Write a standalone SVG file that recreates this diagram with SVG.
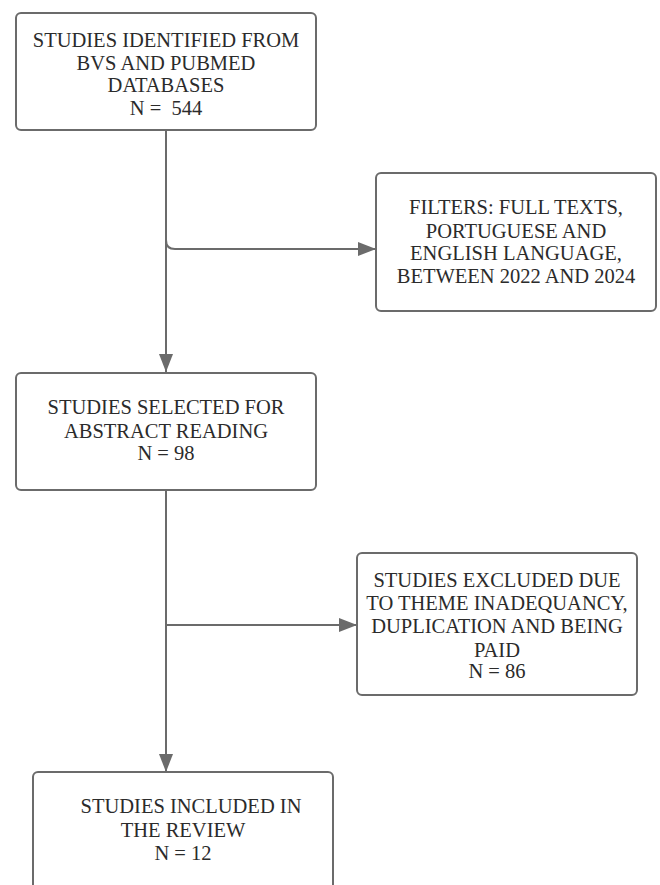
<svg xmlns="http://www.w3.org/2000/svg" width="660" height="885" viewBox="0 0 660 885">
<style>
.box{fill:#fff;stroke:#6b6b6b;stroke-width:2}
.t{font-family:"Liberation Serif","DejaVu Serif",serif;font-size:20.5px;fill:#2b2b2b;text-anchor:middle}
.c{fill:none;stroke:#6b6b6b;stroke-width:2}
</style>
<defs>
<marker id="ah" markerUnits="userSpaceOnUse" markerWidth="20" markerHeight="14" refX="18" refY="7" orient="auto">
<path d="M0,0 L18,7 L0,14 Z" fill="#6b6b6b"/>
</marker>
</defs>
<rect width="660" height="885" fill="#fff"/>
<g id="connectors">
<path class="c" d="M166,130 L166,372" marker-end="url(#ah)"/>
<path class="c" d="M166,240 Q166,249 175,249 L376,249" marker-end="url(#ah)"/>
<path class="c" d="M166,490 L166,772" marker-end="url(#ah)"/>
<path class="c" d="M166,625 L357,625" marker-end="url(#ah)"/>
</g>
<g id="identified">
<rect class="box" x="16" y="13" width="300" height="117" rx="5"/>
<text class="t" x="166" y="47">STUDIES IDENTIFIED FROM</text>
<text class="t" x="166" y="70">BVS AND PUBMED</text>
<text class="t" x="166" y="92">DATABASES</text>
<text class="t" x="166" y="115" xml:space="preserve" style="white-space:pre">N =  544</text>
</g>
<g id="filters">
<rect class="box" x="376" y="173" width="280" height="138" rx="5"/>
<text class="t" x="516" y="214">FILTERS: FULL TEXTS,</text>
<text class="t" x="516" y="238">PORTUGUESE AND</text>
<text class="t" x="516" y="260">ENGLISH LANGUAGE,</text>
<text class="t" x="516" y="283">BETWEEN 2022 AND 2024</text>
</g>
<g id="selected">
<rect class="box" x="16" y="373" width="300" height="117" rx="5"/>
<text class="t" x="166" y="414">STUDIES SELECTED FOR</text>
<text class="t" x="166" y="438">ABSTRACT READING</text>
<text class="t" x="166" y="460">N = 98</text>
</g>
<g id="excluded">
<rect class="box" x="357" y="553" width="280" height="142" rx="5"/>
<text class="t" x="497" y="587">STUDIES EXCLUDED DUE</text>
<text class="t" x="497" y="610">TO THEME INADEQUANCY,</text>
<text class="t" x="497" y="633">DUPLICATION AND BEING</text>
<text class="t" x="497" y="657">PAID</text>
<text class="t" x="497" y="678">N = 86</text>
</g>
<g id="included">
<rect class="box" x="33" y="772" width="300" height="130" rx="5"/>
<text class="t" x="191" y="813">STUDIES INCLUDED IN</text>
<text class="t" x="183" y="837">THE REVIEW</text>
<text class="t" x="183" y="860">N = 12</text>
</g>
</svg>
